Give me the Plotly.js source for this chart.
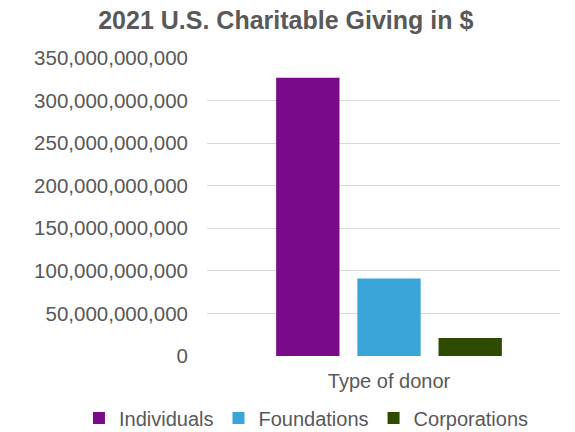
<!DOCTYPE html>
<html><head><meta charset="utf-8">
<script src="https://cdn.plot.ly/plotly-3.0.1.min.js"></script>
<style>html,body{margin:0;padding:0;background:#fff}#chart{width:575px;height:432px}</style>
</head><body><div id="chart"></div>
<script>
const categories = ["Type of donor"];
const seriesNames = ["Individuals", "Foundations", "Corporations"];
const seriesValues = [[326870000000], [90880000000], [21080000000]];
const seriesColors = ["#7B0A8A", "#3AA5D9", "#2F4B00"];
const yTickVals = [0, 50e9, 100e9, 150e9, 200e9, 250e9, 300e9, 350e9];

const traces = seriesNames.map((n, i) => ({
  type: "bar", name: n, x: categories, y: seriesValues[i],
  marker: {color: seriesColors[i]}, hoverinfo: "skip"
}));

const layout = {
  width: 575, height: 432,
  margin: {l: 207, r: 15, t: 58, b: 76, autoexpand: false},
  paper_bgcolor: "#fff", plot_bgcolor: "#fff",
  font: {family: "Liberation Sans, Arial, sans-serif", color: "#595959", size: 20},
  title: {text: "<b>2021 U.S. Charitable Giving in $</b>", x: 0.497, xanchor: "center", y: 0.953, yanchor: "middle",
          font: {size: 25, color: "#595959", family: "Liberation Sans, Arial, sans-serif"}},
  barmode: "group", bargap: 0.31, bargroupgap: 0.22,
  xaxis: {type: "category", range: [-0.5156, 0.4844], showgrid: false, zeroline: false,
          showline: false, ticks: "", ticklabelstandoff: 11, tickfont: {size: 20, color: "#595959"}},
  yaxis: {range: [0, 350e9], tickvals: yTickVals, tickformat: ",d", showgrid: true,
          gridcolor: "#D9D9D9", gridwidth: 1, zeroline: false, showline: false, ticks: "",
          ticklabelstandoff: 18, tickfont: {size: 20.5, color: "#595959"}},
  showlegend: true,
  legend: {orientation: "h", x: -0.3627, xanchor: "left", y: -0.208, yanchor: "middle",
           bgcolor: "rgba(0,0,0,0)", font: {size: 20, color: "#595959"}, itemwidth: 30,
           tracegroupgap: 0, traceorder: "normal", itemclick: false}
};
Plotly.newPlot("chart", traces, layout, {staticPlot: true, displayModeBar: false});
</script></body></html>
